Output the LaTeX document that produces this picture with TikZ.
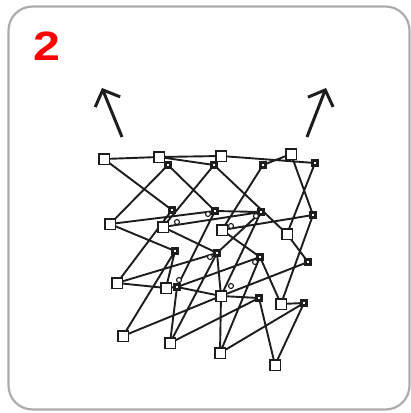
\documentclass[tikz,border=0pt]{standalone}
\usepackage{fontspec}
\setmainfont{Liberation Sans}
\usetikzlibrary{arrows.meta}
\pgfdeclarelayer{bg}
\pgfsetlayers{bg,main}
\definecolor{framegray}{RGB}{172,172,176}
\definecolor{ink}{RGB}{30,28,28}
\begin{document}
\begin{tikzpicture}[x=1pt,y=-1pt,
  osq/.style={draw=ink,fill=white,minimum size=10.5pt,inner sep=0pt,line width=1.5pt},
  fsq/.style={draw=ink,fill=white,minimum size=5.6pt,inner sep=0pt,line width=3pt},
  ring/.style={circle,draw=ink,fill=white,minimum size=5pt,inner sep=0pt,line width=1.1pt},
  edge/.style={draw=ink,line width=1.9pt},
  bigarrow/.style={draw=ink,line width=3pt,-{Straight Barb[length=13pt,width=27pt,line width=3pt]}}]
\useasboundingbox (0,0) rectangle (411,413);
\draw[framegray,line width=2.2pt,rounded corners=24pt] (8.5,6.5) rectangle (409.5,409.5);
\node[text=red,font=\fontsize{41}{41}\selectfont\bfseries,xscale=1.18] (num) at (47,46) {2};
% arrows
\coordinate (la0) at (122,137); \coordinate (la1) at (102,88);
\coordinate (ra0) at (307,137); \coordinate (ra1) at (326,88);
\draw[bigarrow] (la0) -- (la1);
\draw[bigarrow] (ra0) -- (ra1);
% open squares
\node[osq] (O11) at (104,159) {}; \node[osq] (O12) at (159,157) {};
\node[osq] (O13) at (221,156) {}; \node[osq] (O14) at (291,154) {};
\node[osq] (O21) at (110,224) {}; \node[osq] (O22) at (163,227) {};
\node[osq] (O23) at (222,230) {}; \node[osq] (O24) at (287,234) {};
\node[osq] (O31) at (117,283) {}; \node[osq] (O32) at (166,288) {};
\node[osq] (O33) at (221,296) {}; \node[osq] (O34) at (281,304) {};
\node[osq] (O41) at (123,336) {}; \node[osq] (O42) at (170,343) {};
\node[osq] (O43) at (220,353) {}; \node[osq] (O44) at (275,365) {};
% filled squares
\node[fsq] (F11) at (168,165) {}; \node[fsq] (F12) at (214,165) {};
\node[fsq] (F13) at (263,165) {}; \node[fsq] (F14) at (315,163) {};
\node[fsq] (F21) at (172,210) {}; \node[fsq] (F22) at (215,211) {};
\node[fsq] (F23) at (261,212) {}; \node[fsq] (F24) at (313,215) {};
\node[fsq] (F31) at (175,251) {}; \node[fsq] (F32) at (217,253) {};
\node[fsq] (F33) at (260,257) {}; \node[fsq] (F34) at (308,262) {};
\node[fsq] (F41) at (177,287) {}; \node[fsq] (F43) at (259,298) {};
\node[fsq] (F44) at (304,303) {};
% rings
\node[ring] (c1) at (208,214) {}; \node[ring] (c2) at (256,216) {};
\node[ring] (c3) at (177,222) {}; \node[ring] (c4) at (231,226) {};
\node[ring] (c5) at (210,257) {}; \node[ring] (c6) at (255,262) {};
\node[ring] (c7) at (179,280) {}; \node[ring] (c8) at (231,286) {};
\begin{pgfonlayer}{bg}
\path[edge]
 (O11.center)--(O12.center) (O12.center)--(O13.center) (O12.center)--(F12.center)
 (O13.center)--(F14.center) (F13.center)--(O14.center)
 (O11.center)--(F21.center) (F11.center)--(O21.center) (F11.center)--(F22.center)
 (F12.center)--(O22.center) (F12.center)--(O24.center) (F13.center)--(O23.center)
 (O14.center)--(F24.center) (F14.center)--(O24.center) (F22.center)--(F41.center)
 (O21.center)--(F22.center) (F22.center)--(F23.center) (O22.center)--(F23.center)
 (O23.center)--(F24.center)
 (F21.center)--(O31.center) (O21.center)--(F31.center) (O22.center)--(F32.center)
 (O23.center)--(F33.center) (O24.center)--(F34.center) (F24.center)--(O34.center)
 (F23.center)--(O33.center) (F23.center)--(F32.center)
 (O31.center)--(F32.center) (O31.center)--(O32.center) (O32.center)--(F41.center)
 (F41.center)--(O33.center) (F41.center)--(F33.center) (O33.center)--(F43.center)
 (O41.center)--(O33.center) (O33.center)--(F34.center) (F32.center)--(O33.center)
 (O33.center)--(O43.center)
 (F31.center)--(O41.center) (F31.center)--(O32.center) (F32.center)--(O42.center)
 (F41.center)--(O42.center) (F33.center)--(O34.center) (F33.center)--(O43.center)
 (O34.center)--(F44.center) (F44.center)--(O43.center) (F44.center)--(O44.center)
 (F43.center)--(O44.center) (O42.center)--(F43.center);
\end{pgfonlayer}
\end{tikzpicture}
\end{document}
